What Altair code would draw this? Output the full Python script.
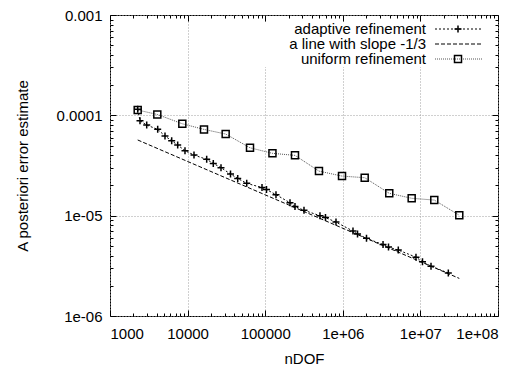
import json
import altair as alt
import pandas as pd

# ---------------- data ----------------
adaptive_ndof = [2275, 2436, 2972, 4117, 5114, 6237, 7452, 9255, 12090, 17620,
                 21430, 26940, 35720, 44240, 57800, 90950, 103900, 137700, 208700, 242000,
                 316200, 508000, 598000, 817000, 1353000, 1548000, 2020000, 3300000, 3880000, 5190000,
                 8770000, 10640000, 13700000, 22900000]
adaptive_err = [1.148e-4, 8.83e-5, 8.0e-5, 7.25e-5, 6.22e-5, 5.58e-5, 5.06e-5, 4.44e-5, 4.02e-5, 3.64e-5,
                3.32e-5, 3.01e-5, 2.60e-5, 2.35e-5, 2.10e-5, 1.905e-5, 1.82e-5, 1.62e-5, 1.345e-5, 1.236e-5,
                1.13e-5, 1.0e-5, 9.57e-6, 8.63e-6, 7.02e-6, 6.56e-6, 5.94e-6, 5.15e-6, 4.86e-6, 4.54e-6,
                3.86e-6, 3.47e-6, 3.14e-6, 2.68e-6]

uniform_ndof = [2275, 4070, 8550, 16270, 30950, 63700, 124000, 242000, 493000, 977000,
                1915000, 3970000, 7720000, 15100000, 31700000]
uniform_err = [1.13e-4, 1.02e-4, 8.24e-5, 7.24e-5, 6.51e-5, 4.75e-5, 4.18e-5, 3.99e-5, 2.78e-5, 2.48e-5,
               2.39e-5, 1.67e-5, 1.49e-5, 1.43e-5, 1.01e-5]

slope_ndof = [2275, 31700000]
slope_err = [5.68e-5, 2.37e-6]

legend_labels = ["adaptive refinement", "a line with slope -1/3", "uniform refinement"]

x_tick_values = [1e3, 1e4, 1e5, 1e6, 1e7, 1e8]
x_tick_labels = ["1000", "10000", "100000", "1e+06", "1e+07", "1e+08"]
y_tick_values = [1e-6, 1e-5, 1e-4, 1e-3]
y_tick_labels = ["1e-06", "1e-05", "0.0001", "0.001"]
minor_mantissas = [2, 3, 4, 5, 6, 7, 8, 9]
x_minor = [m * d for d in x_tick_values[:-1] for m in minor_mantissas]
y_minor = [m * d for d in y_tick_values[:-1] for m in minor_mantissas]

x_title = "nDOF"
y_title = "A posteriori error estimate"

# ---------------- frames ----------------
adaptive = pd.DataFrame({"ndof": adaptive_ndof, "err": adaptive_err})
uniform = pd.DataFrame({"ndof": uniform_ndof, "err": uniform_err})
slope = pd.DataFrame({"ndof": slope_ndof, "err": slope_err})
one = pd.DataFrame({"k": [0]})

W, H = 388, 301
FONT = "Liberation Sans"
FS = 15
PLUS = "M-1,0L1,0M0,-1L0,1"

xs = alt.Scale(type="log", domain=[1e3, 1e8])
ys = alt.Scale(type="log", domain=[1e-6, 1e-3])

x_lab = f"{json.dumps(x_tick_labels)}[indexof({json.dumps(x_tick_values)}, datum.value)]"
y_lab = f"{json.dumps(y_tick_labels)}[indexof({json.dumps(y_tick_values)}, datum.value)]"

grid_kw = dict(grid=True, gridColor="#a0a0a0", gridDash=[1, 2], gridWidth=1)
common = dict(domain=False, tickColor="black", tickWidth=1)

ax_bottom_major = alt.Axis(orient="bottom", values=x_tick_values, labelExpr=x_lab, tickSize=6, offset=-6,
                           labelPadding=10, title=x_title, titleY=53, titleBaseline="alphabetic",
                           **grid_kw, **common)
ax_left_major = alt.Axis(orient="left", values=y_tick_values, labelExpr=y_lab, tickSize=6, offset=-6,
                         labelPadding=8, title=y_title, titleX=-89, titleBaseline="alphabetic",
                         **grid_kw, **common)
ax_top_major = alt.Axis(orient="top", values=x_tick_values, labels=False, tickSize=6, offset=-6,
                        grid=False, title=None, **common)
ax_right_major = alt.Axis(orient="right", values=y_tick_values, labels=False, tickSize=6, offset=-6,
                          grid=False, title=None, **common)
ax_bottom_minor = alt.Axis(orient="bottom", values=x_minor, labels=False, tickSize=3, offset=-3,
                           grid=False, title=None, **common)
ax_left_minor = alt.Axis(orient="left", values=y_minor, labels=False, tickSize=3, offset=-3,
                         grid=False, title=None, **common)
ax_top_minor = alt.Axis(orient="top", values=x_minor, labels=False, tickSize=3, offset=-3,
                        grid=False, title=None, **common)
ax_right_minor = alt.Axis(orient="right", values=y_minor, labels=False, tickSize=3, offset=-3,
                          grid=False, title=None, **common)


def enc(base, xa, ya):
    return base.encode(
        x=alt.X("ndof:Q", scale=xs, axis=xa),
        y=alt.Y("err:Q", scale=ys, axis=ya),
    )


l_adapt = enc(alt.Chart(adaptive).mark_line(color="black", strokeWidth=1, strokeDash=[2, 2]),
              ax_bottom_major, ax_left_major)
l_slope = enc(alt.Chart(slope).mark_line(color="black", strokeWidth=1, strokeDash=[4, 2]),
              ax_top_major, ax_right_major)
l_unif = enc(alt.Chart(uniform).mark_line(color="#555555", strokeWidth=1, strokeDash=[1, 1]),
             ax_bottom_minor, ax_left_minor)
p_adapt = enc(alt.Chart(adaptive).mark_point(shape=PLUS, size=49, filled=False, color="black", strokeWidth=1.5,
                                             opacity=1),
              ax_top_minor, ax_right_minor)
p_unif = enc(alt.Chart(uniform).mark_point(shape="square", size=49, filled=False, color="black", strokeWidth=1.5,
                                           opacity=1),
             None, None)

# ---------------- key ----------------
key_bg = alt.Chart(one).mark_rect(color="white").encode(
    x=alt.value(120), x2=alt.value(381), y=alt.value(7), y2=alt.value(52))
rows_y = [14, 29, 44]
key_layers = [key_bg]
dashes = [[2, 2], [4, 2], [1, 1]]
colors = ["black", "black", "#555555"]
for i, lab in enumerate(legend_labels):
    key_layers.append(alt.Chart(one).mark_text(text=lab, align="right", baseline="middle", font=FONT,
                                              fontSize=FS, color="black").encode(
        x=alt.value(316), y=alt.value(rows_y[i])))
    key_layers.append(alt.Chart(one).mark_rule(color=colors[i], strokeWidth=1, strokeDash=dashes[i]).encode(
        x=alt.value(325), x2=alt.value(372), y=alt.value(rows_y[i])))
key_layers.append(alt.Chart(one).mark_point(shape=PLUS, size=49, filled=False, color="black", strokeWidth=1.5,
                                            opacity=1).encode(x=alt.value(348), y=alt.value(rows_y[0])))
key_layers.append(alt.Chart(one).mark_point(shape="square", size=49, filled=False, color="black", strokeWidth=1.5,
                                            opacity=1).encode(x=alt.value(348), y=alt.value(rows_y[2])))

chart = alt.layer(
    l_adapt, l_slope, l_unif, p_adapt, p_unif, *key_layers
).resolve_axis(x="independent", y="independent").properties(
    width=W, height=H,
    autosize=alt.AutoSizeParams(type="none"),
    padding={"left": 102, "top": 7, "right": 19, "bottom": 49},
    background="white",
).configure_view(stroke="black", strokeWidth=1).configure_axis(
    labelFont=FONT, labelFontSize=FS, labelColor="black",
    titleFont=FONT, titleFontSize=FS, titleColor="black", titleFontWeight="normal",
)

chart.save("out.html", embed_options={"renderer": "svg", "actions": False})
